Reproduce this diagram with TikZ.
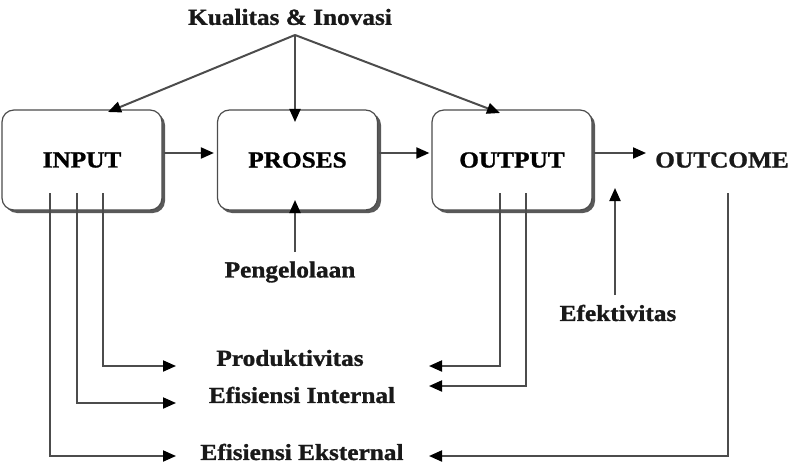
\documentclass[tikz,border=0pt]{standalone}
\usepackage{fontspec}
\setmainfont{Liberation Serif}[FakeStretch=1.1,BoldFeatures={FakeBold=1.2}]
\usetikzlibrary{arrows.meta,calc}
\begin{document}
\begin{tikzpicture}[x=1pt,y=-1pt,
  lbl/.style={font=\fontsize{23}{26}\selectfont\bfseries, inner sep=0pt, text=black!90},
  boxshape/.style={draw=black!70, line width=1.2pt, rounded corners=12pt, fill=white,
    minimum width=160pt, minimum height=100pt, font=\fontsize{23}{26}\selectfont\bfseries},
  shadowbox/.style={fill=black!65, rounded corners=12pt},
  conn/.style={draw=black!70, line width=2pt, -{Triangle[length=13pt,width=11pt,color=black,fill=black]}},
  plain/.style={draw=black!70, line width=2pt}]
\useasboundingbox (0,0) rectangle (792,476);
% shadows
\fill[shadowbox] (5,113) rectangle (165,213);
\fill[shadowbox] (220,113) rectangle (381,213);
\fill[shadowbox] (435,113) rectangle (595,213);
% boxes
\node[boxshape] (input) at (82,160) {INPUT};
\node[boxshape] (proses) at (297.5,160) {PROSES};
\node[boxshape] (output) at (512,160) {OUTPUT};
% labels
\node[lbl] (outcome) at (722,160) {OUTCOME};
\node[lbl] (kualitas) at (290,17) {Kualitas \& Inovasi};
\node[lbl] (pengelolaan) at (290,272) {Pengelolaan};
\node[lbl] (efektivitas) at (618,313) {Efektivitas};
\node[lbl] (produktivitas) at (290,358) {Produktivitas};
\node[lbl] (internal) at (302,395) {Efisiensi Internal};
\node[lbl] (eksternal) at (302,452) {Efisiensi Eksternal};
% coordinates
\coordinate (k) at (295,35);
\coordinate (kin) at (108,112);
\coordinate (kpr) at (295,122);
\coordinate (kou) at (500,113);
\coordinate (pg) at (295,252);
\coordinate (pgt) at (295,200);
\coordinate (ef) at (615,295);
\coordinate (eft) at (615,188);
\coordinate (i1) at (50,193);
\coordinate (i2) at (77,193);
\coordinate (i3) at (103,193);
\coordinate (o1) at (500,193);
\coordinate (o2) at (526,193);
\coordinate (oc) at (728,193);
\coordinate (tpl) at (176,366);
\coordinate (til) at (176,403);
\coordinate (tel) at (176,456);
\coordinate (tpr) at (429,366);
\coordinate (tir) at (429,386);
\coordinate (ter) at (429,456);
% horizontal flow
\draw[conn] ($(input.east)+(1,-7)$) -- ($(proses.west)+(-3,-7)$);
\draw[conn] ($(proses.east)+(1,-7)$) -- ($(output.west)+(-2,-7)$);
\draw[conn] ($(output.east)+(1,-7)$) -- ($(outcome.west)+(-9,-7)$);
% top arrows
\draw[conn] (k) -- (kin);
\draw[conn] (k) -- (kpr);
\draw[conn] (k) -- (kou);
% bottom arrows
\draw[conn] (pg) -- (pgt);
\draw[conn] (ef) -- (eft);
% L connectors
\draw[conn] (i3) |- (tpl);
\draw[conn] (i2) |- (til);
\draw[conn] (i1) |- (tel);
\draw[conn] (o1) |- (tpr);
\draw[conn] (o2) |- (tir);
\draw[conn] (oc) |- (ter);
\end{tikzpicture}
\end{document}
